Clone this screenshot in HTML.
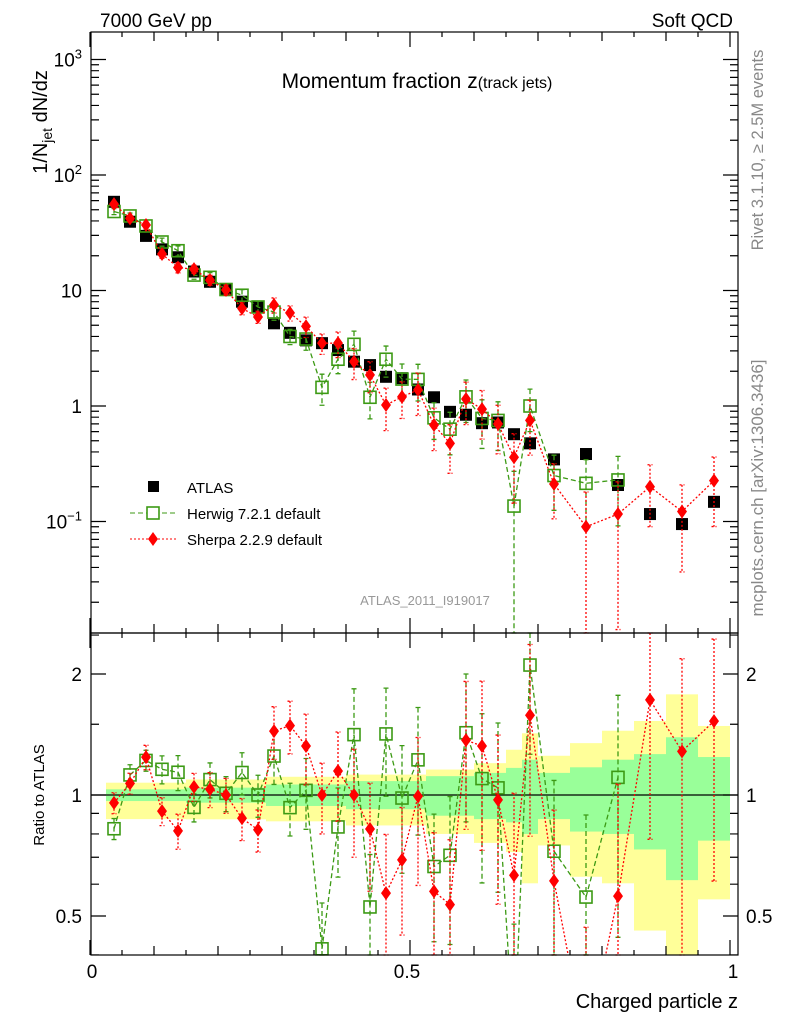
<!DOCTYPE html>
<html><head><meta charset="utf-8"><style>
html,body{margin:0;padding:0;background:#fff;}
svg{display:block;font-family:"Liberation Sans",sans-serif;}
</style></head><body>
<svg id="c" width="786" height="1024" viewBox="0 0 786 1024">
<text x="100" y="27" font-size="19">7000 GeV pp</text>
<text x="733" y="27" font-size="19" text-anchor="end">Soft QCD</text>
<text x="417" y="88" font-size="21" text-anchor="middle">Momentum fraction z<tspan font-size="16">(track jets)</tspan></text>
<text transform="translate(47,122) rotate(-90)" font-size="20" text-anchor="middle">1/N<tspan font-size="14" dy="5">jet</tspan><tspan dy="-5"> dN/dz</tspan></text>
<text transform="translate(763,150) rotate(-90)" font-size="16.5" fill="#888" text-anchor="middle">Rivet 3.1.10, ≥ 2.5M events</text>
<text transform="translate(763,488) rotate(-90)" font-size="17" fill="#888" text-anchor="middle">mcplots.cern.ch [arXiv:1306.3436]</text>
<text x="425" y="605" font-size="13" fill="#999" text-anchor="middle">ATLAS_2011_I919017</text>
<text transform="translate(44,795) rotate(-90)" font-size="15" text-anchor="middle">Ratio to ATLAS</text>
<text x="738" y="1008" font-size="20" text-anchor="end">Charged particle z</text>
<g id="bands"></g><g id="grid"></g><g id="marks"></g><g id="axes"></g>
<g id="legend">
 <rect x="148" y="481" width="11" height="11" fill="#000"/>
 <text x="187" y="493" font-size="15">ATLAS</text>
 <line x1="130" y1="513" x2="176" y2="513" stroke="#3c9a14" stroke-dasharray="5,3"/>
 <rect x="147" y="507" width="12" height="12" fill="#fff" stroke="#3c9a14" stroke-width="1.6"/>
 <text x="187" y="519" font-size="15">Herwig 7.2.1 default</text>
 <line x1="130" y1="539" x2="176" y2="539" stroke="#f00" stroke-dasharray="2,2"/>
 <path d="M153,532 L158,539 L153,546 L148,539 Z" fill="#f00"/>
 <text x="187" y="545" font-size="15">Sherpa 2.2.9 default</text>
</g>
</svg>
<script>
const binEdges=[0.025,0.05,0.075,0.1,0.125,0.15,0.175,0.2,0.225,0.25,0.275,0.3,0.325,0.35,0.375,0.4,0.425,0.45,0.475,0.5,0.525,0.55,0.575,0.6,0.625,0.65,0.675,0.7,0.75,0.8,0.85,0.9,0.95,1.0];
const atlas=[58.6,39.4,29.7,22.7,19.4,14.6,11.9,10.1,8.0,7.2,5.2,4.3,3.7,3.5,3.05,2.42,2.26,1.79,1.74,1.39,1.19,0.89,0.84,0.71,0.72,0.57,0.475,0.345,0.384,0.207,0.116,0.095,0.148];
const herwig=[48.3,44.2,36.2,26.3,22.1,13.6,13.0,10.2,9.1,7.2,6.5,4.0,3.8,1.45,2.54,3.42,1.19,2.54,1.71,1.70,0.79,0.63,1.2,0.78,0.75,0.136,1.0,0.25,0.214,0.229];
const herwigErr=[0.06,0.06,0.06,0.08,0.1,0.08,0.1,0.1,0.12,0.12,0.15,0.15,0.2,0.3,0.25,0.3,0.35,0.3,0.35,0.35,0.35,0.4,0.4,0.45,0.45,1.0,0.4,0.5,0.6,0.6];
const sherpa=[56,42.1,36.9,20.7,15.8,15.3,12.3,10.1,7.0,5.9,7.5,6.4,4.9,3.5,3.5,2.42,1.86,1.02,1.20,1.38,0.685,0.475,1.15,0.94,0.70,0.36,0.75,0.211,0.090,0.116,0.20,0.122,0.226];
const sherpaErr=[0.06,0.06,0.07,0.08,0.1,0.08,0.1,0.1,0.12,0.12,0.15,0.15,0.2,0.2,0.25,0.3,0.3,0.4,0.35,0.4,0.4,0.45,0.4,0.45,0.45,0.6,0.5,0.5,1.0,0.9,0.55,0.7,0.6];
const greenHi=[1.033,1.033,1.033,1.033,1.033,1.043,1.043,1.043,1.043,1.043,1.062,1.062,1.062,1.062,1.062,1.083,1.083,1.083,1.083,1.083,1.114,1.114,1.114,1.135,1.135,1.168,1.224,1.135,1.172,1.224,1.264,1.392,1.243];
const greenLo=[0.966,0.966,0.966,0.966,0.966,0.957,0.957,0.957,0.957,0.957,0.939,0.939,0.939,0.939,0.939,0.922,0.922,0.922,0.922,0.922,0.888,0.888,0.888,0.871,0.871,0.855,0.80,0.871,0.811,0.80,0.732,0.614,0.77];
const yellowHi=[1.073,1.073,1.073,1.073,1.073,1.093,1.093,1.093,1.093,1.093,1.11,1.11,1.11,1.11,1.11,1.124,1.124,1.124,1.124,1.124,1.157,1.157,1.157,1.2,1.2,1.296,1.424,1.252,1.346,1.445,1.528,1.78,1.485];
const yellowLo=[0.871,0.871,0.871,0.871,0.871,0.87,0.87,0.87,0.87,0.87,0.86,0.86,0.86,0.86,0.86,0.84,0.84,0.84,0.84,0.84,0.80,0.80,0.80,0.76,0.76,0.721,0.603,0.749,0.626,0.603,0.46,0.40,0.55];
const xTickLabels=["0","0.5","1"];
const xTickVals=[0,0.5,1];

const NS="http://www.w3.org/2000/svg";
const L=91,R=738,MT=32,MB=633,RT=633,RB=955;
const X=z=>90+z*640;
const Y=v=>406-115.5*Math.log10(v);
const YR=r=>795-121*Math.log2(r);
function mk(tag,attrs,parent){const e=document.createElementNS(NS,tag);for(const k in attrs)e.setAttribute(k,attrs[k]);parent.appendChild(e);return e;}
const clampM=y=>Math.max(MT,Math.min(MB,y));
const clampR=y=>Math.max(RT,Math.min(RB,y));
const centers=binEdges.slice(0,-1).map((e,i)=>(e+binEdges[i+1])/2);

const gb=document.getElementById('bands');
for(let i=0;i<centers.length;i++){
  const x1=X(binEdges[i]),x2=X(binEdges[i+1]);
  const yt=clampR(YR(yellowHi[i])),yb=clampR(YR(yellowLo[i]));
  let e=mk('rect',{x:x1,y:yt,width:x2-x1,height:yb-yt,fill:'#ffff99'},gb);
  
  
  const gt=clampR(YR(greenHi[i])),gbm=clampR(YR(greenLo[i]));
  e=mk('rect',{x:x1,y:gt,width:x2-x1,height:gbm-gt,fill:'#99ff99'},gb);
  
  
}
let ln=mk('line',{x1:L,x2:R,y1:YR(1),y2:YR(1),stroke:'#000','stroke-width':1.3},gb);



const gm=document.getElementById('marks');
function series(vals,errs,color,dash,name,shape,ratio){
  const g=mk('g',{},gm);
  
  
  const pts=[];
  vals.forEach((v,i)=>{
    const val=ratio?v/atlas[i]:v;
    const y=ratio?YR(val):Y(val);
    pts.push([X(centers[i]),y]);
  });
  const cl=ratio?clampR:clampM;
  const top=ratio?RT:MT,bot=ratio?RB:MB;
  let d='';
  pts.forEach((p,i)=>{d+=(i?'L':'M')+p[0].toFixed(1)+','+p[1].toFixed(1);});
  const cp=mk('clipPath',{id:'cp'+name+(ratio?'r':'m')},g);
  mk('rect',{x:L,y:top,width:R-L,height:bot-top},cp);
  const pl=mk('path',{d:d,fill:'none',stroke:color,'stroke-width':1.3,'stroke-dasharray':dash,'clip-path':'url(#cp'+name+(ratio?'r':'m')+')'},g);
  
  
  vals.forEach((v,i)=>{
    const x=pts[i][0];
    if(errs){
      const base=ratio?v/atlas[i]:v;
      const hi=base*(1+errs[i]),lo=Math.max(base*(1-errs[i]),1e-4);
      const y1=cl(ratio?YR(hi):Y(hi)),y2=cl(ratio?YR(lo):Y(lo));
      const eb=mk('path',{d:`M${x},${y1}L${x},${y2}M${x-2.5},${y1}L${x+2.5},${y1}M${x-2.5},${y2}L${x+2.5},${y2}`,stroke:color,'stroke-width':1.3,'stroke-dasharray':dash,fill:'none'},g);
      
      
    }
    const y=pts[i][1];
    if(y<top-2||y>bot+2)return;
    let m;
    if(shape==='sq') m=mk('rect',{x:x-6,y:y-6,width:12,height:12,fill:'#000'},g);
    else if(shape==='osq') m=mk('rect',{x:x-6,y:y-6,width:12,height:12,fill:'none',stroke:color,'stroke-width':1.6},g);
    else m=mk('path',{d:`M${x},${y-7}L${x+5},${y}L${x},${y+7}L${x-5},${y}Z`,fill:color},g);
    
    
  });
}
(function(){
  const g=mk('g',{},gm);
  
  
  atlas.forEach((v,i)=>{
    const x=X(centers[i]),y=Y(v);
    const m=mk('rect',{x:x-6,y:y-6,width:12,height:12,fill:'#000'},g);
    
    
  });
})();
series(herwig,herwigErr,'#3c9a14','5,3','herwig','osq',false);
series(sherpa,sherpaErr,'#ff0000','2,2','sherpa','dia',false);
series(herwig,herwigErr,'#3c9a14','5,3','herwig','osq',true);
series(sherpa,sherpaErr,'#ff0000','2,2','sherpa','dia',true);

const ga=document.getElementById('axes');
let fr=mk('rect',{x:L,y:MT,width:R-L,height:MB-MT,fill:'none',stroke:'#000','stroke-width':1.2},ga);


fr=mk('rect',{x:L,y:RT,width:R-L,height:RB-RT,fill:'none',stroke:'#000','stroke-width':1.2},ga);


let td='';
for(let e=-2;e<=3;e++){
  for(let m=1;m<10;m++){
    const y=Y(m*Math.pow(10,e));
    if(y<MT||y>MB)continue;
    const len=m===1?15:8;
    td+=`M${L},${y}h${len}M${R},${y}h${-len}`;
  }
}
[0.4,0.5,0.6,0.7,0.8,0.9,1,1.5,2,2.5].forEach(r=>{
  const y=YR(r);if(y<RT||y>RB)return;
  const len=(r===0.5||r===1||r===2)?15:8;
  td+=`M${L},${y}h${len}M${R},${y}h${-len}`;
});
for(let k=0;k<=20;k++){
  const z=k*0.05,x=X(z);
  const len=(k%10===0)?15:(k%2===0?9:5);
  td+=`M${x},${RB}v${-len}M${x},${MB}v${-len}M${x},${RT}v${len}M${x},${MT}v${len}`;
}
let tp=mk('path',{d:td,stroke:'#000','stroke-width':1.2,fill:'none'},ga);


const yl=[[1000,'10','3'],[100,'10','2'],[10,'10',''],[1,'1',''],[0.1,'10','−1']];
yl.forEach(l=>{
  const t=mk('text',{x:82,y:Y(l[0])+7,'font-size':19,'text-anchor':'end'},ga);
  t.textContent=l[1];
  if(l[2]){const s=mk('tspan',{dy:-8,'font-size':13},t);s.textContent=l[2];}
  
  
});
[[2,'2'],[1,'1'],[0.5,'0.5']].forEach(l=>{
  let t=mk('text',{x:82,y:YR(l[0])+7,'font-size':19,'text-anchor':'end'},ga);
  t.textContent=l[1];
  
  
  t=mk('text',{x:746,y:YR(l[0])+7,'font-size':19},ga);
  t.textContent=l[1];
  
  
});
xTickVals.forEach((v,i)=>{
  const t=mk('text',{x:X(v)+(i===0?2:(i===2?3:-3)),y:978,'font-size':19,'text-anchor':'middle'},ga);
  t.textContent=xTickLabels[i];
  
  
});
</script>
</body></html>
